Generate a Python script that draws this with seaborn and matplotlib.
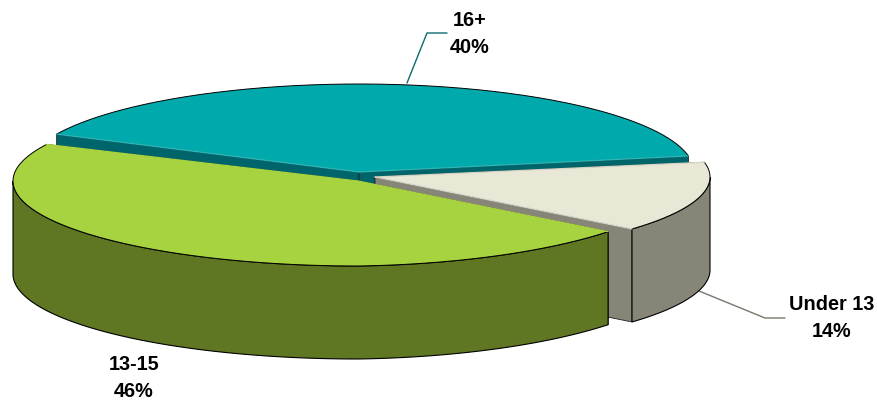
import numpy as np
import matplotlib.pyplot as plt
import seaborn as sns

# pie data, clockwise the way it sits in the picture
labels = ['16+', '13-15', 'Under 13']
shares = [40, 46, 14]

top_colors = ['#00A9AB', '#A8D340', '#E9E8D6']
side_colors = ['#00656A', '#5F7623', '#868578']
rim_colors = ['#2FB5B5', '#A8D340', '#D5D5C8']

# slice apex and radii in pixels, each slice is pulled out a little differently
apex_x = [359, 358, 375]
apex_y = [172, 181, 177]
radius_left = [335, 345, 335]
radius_right = [335, 326, 335]
radius_y = [88, 85, 81]
right_lift = [0, 5, 0]   # the right side of the front slice sits a bit higher
depth = 93
start_angle = 10.5

sns.set_theme(style='white')
plt.rcParams['font.family'] = ['Liberation Sans', 'DejaVu Sans']

fig, ax = plt.subplots(figsize=(8.77, 4.01), dpi=100)
ax.set_position([0, 0, 1, 1])
ax.set_xlim(0, 877)
ax.set_ylim(401, 0)
ax.axis('off')


def ring(i, t0, t1):
    t = np.radians(np.linspace(t0, t1, 200))
    c = np.cos(t)
    rx = np.where(c > 0, radius_right[i], radius_left[i])
    return apex_x[i] + rx * c, apex_y[i] - radius_y[i] * np.sin(t) - right_lift[i] * np.clip(c, 0, 1)


def draw_slice(i, t0, t1, z):
    x, y = ring(i, t0, t1)
    x0, y0 = apex_x[i], apex_y[i]
    # cut faces, the end of the slice first
    for cx, cy in [(x[-1], y[-1]), (x[0], y[0])]:
        ax.fill([x0, cx, cx, x0], [y0, cy, cy + depth, y0 + depth],
                color=side_colors[i], ec='#222222', lw=0.6, zorder=z)
    # outer wall, only the front part shows
    a = max(t0, 180)
    b = min(t1, 360)
    if b > a:
        wx, wy = ring(i, a, b)
        ax.fill(np.r_[wx, wx[::-1]], np.r_[wy, wy[::-1] + depth],
                color=side_colors[i], ec='black', lw=0.8, zorder=z)
    # top face
    ax.fill(np.r_[x0, x], np.r_[y0, y], color=top_colors[i], lw=0, zorder=z)
    ax.plot(x, y, color='black', lw=0.7, zorder=z)
    # light rim on the visible cut edges
    ax.plot([x0, x[-1]], [y0, y[-1]], color=rim_colors[i], lw=0.9, zorder=z)
    ax.plot([x0, x[0]], [y0, y[0]], color=rim_colors[i], lw=0.9, zorder=z)


# painter's order: back slice, then right one, then the big front one
angles = start_angle + np.cumsum([0] + shares) * 3.6
draw_order = [0, 2, 1]
for n, i in enumerate(draw_order):
    draw_slice(i, angles[i], angles[i + 1], 10 + n)

# leader lines
ax.plot([407, 427, 447], [83, 33, 33], color='#0B6A6E', lw=1, zorder=5)
ax.plot([699, 765, 785], [291, 318, 318], color='#77776C', lw=1, zorder=5)

text_x = [470, 134, 832]
text_y = [34, 378, 318]
for i in range(len(labels)):
    ax.text(text_x[i], text_y[i], f'{labels[i]}\n{shares[i]}%', ha='center', va='center',
            fontsize=14.3, fontweight='bold', color='black', linespacing=1.47, zorder=20)

fig.savefig('out.png', dpi=100)
